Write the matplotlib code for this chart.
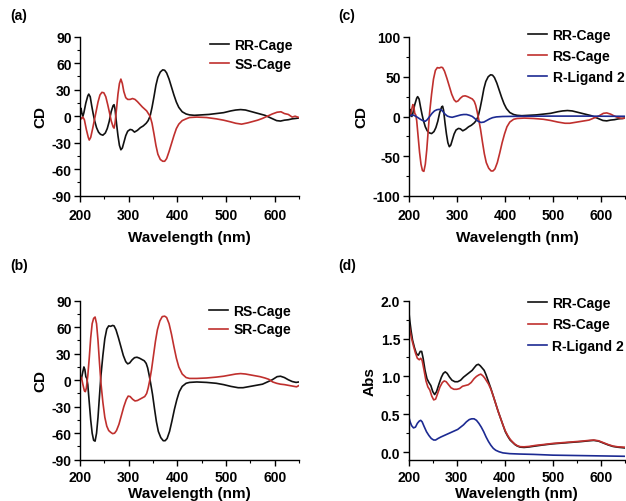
"""
CD and UV-vis spectra of the cages, four panel figure
"""

import matplotlib
matplotlib.use('Agg')
import matplotlib.pyplot as plt
from matplotlib.ticker import MultipleLocator, FormatStrFormatter

BLACK = '#111111'
RED = '#c0302e'
BLUE = '#1c2a92'

# ---- CD data ----
# RR-Cage, panels (a) and (c)
rr_cd_wl = [200, 202, 204, 206, 208, 212, 216, 218, 221, 224, 227, 230, 234, 238, 242,
            247, 252, 256, 260, 264, 268, 270, 272, 275, 278, 281, 284, 287, 290, 294,
            298, 303, 307, 312, 318, 324, 330, 336, 340, 344, 348, 352, 356, 360, 365,
            370, 374, 378, 383, 388, 393, 398, 403, 410, 418, 425, 435, 450, 465, 480,
            495, 510, 520, 530, 540, 550, 560, 570, 580, 588, 596, 604, 612, 620, 628,
            636, 644, 650]
rr_cd = [0, 9, 3, 0, 4, 15, 23, 25, 22, 12, 3, -5, -13, -18, -20.5,
         -21.5, -19, -14, -6, 5, 12, 13, 8, -8, -22, -33, -38, -36, -30, -22,
         -17, -15, -15.5, -18, -16, -13, -11, -8, -5, 0, 10, 22, 35, 44, 50,
         52.5, 52, 49, 42, 33, 24, 16, 10, 5, 2.5, 1.5, 1, 1.5, 2, 3,
         4, 6, 7, 7.5, 7, 5.5, 4, 2.5, 1, -1, -3, -5, -5.5, -4.5, -4,
         -3, -2.5, -2]

# SS-Cage, panel (a)
ss_cd_wl = [200, 203, 206, 209, 213, 217, 219, 222, 226, 230, 233, 237, 241, 245, 249,
            253, 257, 261, 264, 268, 270, 272, 275, 278, 281, 284, 287, 290, 294, 298,
            303, 308, 313, 318, 323, 328, 333, 337, 341, 344, 348, 352, 356, 360, 365,
            370, 374, 378, 383, 388, 393, 398, 403, 410, 418, 425, 440, 460, 480, 495,
            510, 520, 532, 545, 555, 565, 575, 585, 595, 605, 613, 620, 628, 636, 642,
            650]
ss_cd = [0, -3, -1, -4, -15, -24, -27, -24, -14, -3, 5, 16, 24, 27, 26.5,
         22, 13, 3, -5, -12, -13.5, -8, 8, 25, 37, 42, 37, 28, 21, 19,
         19, 20, 19, 16.5, 13.5, 10.5, 8, 6, 2.5, 0, -8, -20, -33, -43, -49,
         -51, -51, -48, -40, -31, -22, -14, -9, -5, -3, -1.5, -1, -1.5, -3, -4.5,
         -6.5, -8, -9, -7.5, -6, -4.5, -2.5, 0, 2.5, 4.5, 5, 3, 2, -1, 0,
         -1.5]

# RS-Cage, panels (b) and (c)
rs_cd_wl = [200, 203, 206, 208, 210, 212, 214, 216, 219, 222, 225, 228, 231, 234, 237,
            240, 243, 247, 251, 255, 259, 263, 267, 270, 274, 279, 284, 289, 294, 298,
            302, 307, 312, 317, 322, 327, 332, 336, 339, 342, 345, 349, 353, 357, 361,
            366, 371, 375, 379, 384, 389, 394, 399, 404, 410, 418, 425, 440, 460, 480,
            495, 510, 525, 535, 545, 555, 565, 575, 585, 595, 605, 612, 620, 628, 636,
            644, 650]
rs_cd = [0, 2, 10, 15, 12, 4, 2, -5, -25, -45, -60, -68, -69, -60, -42,
         -18, 5, 28, 47, 58, 61.5, 61, 62, 61.5, 57, 48, 38, 28, 21, 18.5,
         19.5, 23, 25.5, 26, 25, 23.5, 22, 19, 14, 6, -3, -16, -32, -47, -58,
         -65, -68.5, -68.5, -66, -58, -46, -33, -22, -13, -7, -3.5, -2.5, -2, -2.5, -3.5,
         -5, -7, -8.5, -8.5, -7.5, -6.5, -5.5, -4.5, -2, 0.5, 4, 4.5, 3, 0.5, -1.5,
         -2.5, -2]

# SR-Cage, panel (b)
sr_cd_wl = [200, 203, 206, 209, 211, 213, 216, 219, 222, 225, 228, 231, 234, 237, 240,
            243, 247, 251, 255, 259, 263, 267, 271, 275, 280, 285, 290, 295, 299, 303,
            308, 313, 318, 323, 328, 333, 337, 340, 343, 347, 351, 355, 359, 364, 369,
            374, 378, 383, 388, 393, 398, 403, 410, 418, 425, 440, 460, 480, 495, 510,
            520, 530, 540, 550, 560, 570, 580, 588, 596, 604, 612, 620, 630, 640, 645,
            650]
sr_cd = [4.5, 3, -5, -12, -13, -9, 5, 25, 48, 64, 70, 71.5, 64, 45, 20,
         -3, -25, -42, -52, -57, -59, -60.5, -60, -57, -50, -40, -30, -22, -18, -18.5,
         -21.5, -23.5, -23, -21.5, -20, -18.5, -15, -9, -1, 12, 28, 44, 57, 67, 72,
         72.5, 71, 64, 52, 38, 25, 15, 7, 3, 2, 2, 2.5, 3.5, 4.5, 6,
         7, 7.5, 7, 6, 5, 4, 2.5, 1, -2, -3.5, -4.5, -5, -6, -7, -7.5,
         -6]

# R-Ligand 2, panel (c)
lig_cd_wl = [200, 203, 206, 210, 215, 220, 225, 230, 234, 238, 243, 248, 253, 258, 263,
             267, 271, 275, 280, 285, 290, 296, 302, 308, 314, 320, 326, 332, 338, 344,
             350, 356, 362, 368, 374, 382, 395, 430, 500, 560, 620, 650]
lig_cd = [0, 1, 2, 1.5, 0, -2, -4, -5.5, -6, -4, 0, 4, 7, 8.5, 9,
          8.5, 6, 3, 0.5, -0.5, -1, 0, 1, 2, 2.5, 2.5, 1.5, 0, -3, -6,
          -7.5, -7, -5, -3, -1.5, -0.5, 0, 0.3, 0.5, 0.5, 0.3, 0.3]

# ---- absorbance data, panel (d) ----
rr_abs_wl = [200, 202, 205, 208, 212, 216, 220, 224, 227, 230, 234, 238, 242, 246, 250,
             254, 258, 263, 268, 272, 276, 280, 285, 290, 296, 302, 308, 314, 320, 326,
             332, 337, 341, 345, 349, 353, 357, 361, 366, 371, 376, 381, 386, 391, 396,
             401, 406, 411, 416, 421, 426, 432, 440, 450, 465, 480, 500, 520, 540, 560,
             575, 585, 595, 605, 615, 625, 635, 650]
rr_abs = [1.88, 1.75, 1.60, 1.48, 1.38, 1.30, 1.28, 1.33, 1.33, 1.24, 1.08, 0.97, 0.92, 0.88, 0.80,
          0.76, 0.80, 0.90, 0.99, 1.04, 1.06, 1.04, 0.99, 0.95, 0.93, 0.93, 0.95, 0.99, 1.02, 1.05,
          1.08, 1.12, 1.15, 1.16, 1.14, 1.11, 1.08, 1.02, 0.93, 0.84, 0.74, 0.64, 0.54, 0.45, 0.36,
          0.27, 0.21, 0.16, 0.13, 0.10, 0.08, 0.066, 0.062, 0.068, 0.082, 0.095, 0.11, 0.12, 0.13, 0.14,
          0.15, 0.155, 0.145, 0.12, 0.095, 0.075, 0.065, 0.055]

rs_abs_wl = [200, 203, 206, 210, 214, 218, 222, 225, 228, 232, 236, 240, 244, 248, 252,
             256, 260, 265, 270, 274, 278, 283, 288, 294, 300, 306, 312, 318, 324, 330,
             336, 341, 346, 350, 354, 358, 362, 366, 371, 376, 381, 386, 391, 396, 401,
             406, 411, 416, 421, 426, 432, 440, 450, 465, 480, 500, 520, 540, 560, 575,
             585, 595, 605, 615, 625, 635, 650]
rs_abs = [1.72, 1.60, 1.50, 1.40, 1.31, 1.24, 1.22, 1.24, 1.21, 1.08, 0.94, 0.86, 0.82, 0.74, 0.69,
          0.70, 0.77, 0.86, 0.92, 0.94, 0.93, 0.89, 0.85, 0.83, 0.83, 0.84, 0.87, 0.88, 0.89, 0.92,
          0.97, 1.00, 1.02, 1.03, 1.01, 0.98, 0.94, 0.90, 0.83, 0.74, 0.64, 0.54, 0.45, 0.36, 0.28,
          0.22, 0.17, 0.135, 0.105, 0.085, 0.072, 0.07, 0.075, 0.09, 0.10, 0.115, 0.125, 0.135, 0.145, 0.155,
          0.16, 0.15, 0.125, 0.10, 0.08, 0.07, 0.065]

lig_abs_wl = [200, 203, 206, 210, 214, 218, 222, 225, 228, 232, 237, 242, 247, 252, 256,
              261, 267, 274, 281, 288, 295, 302, 308, 314, 320, 326, 331, 336, 341, 346,
              351, 356, 361, 366, 371, 376, 381, 388, 396, 410, 430, 460, 500, 550, 600,
              650]
lig_abs = [0.47, 0.40, 0.35, 0.32, 0.33, 0.38, 0.41, 0.42, 0.40, 0.34, 0.27, 0.22, 0.18, 0.16, 0.16,
           0.18, 0.20, 0.22, 0.24, 0.26, 0.28, 0.30, 0.33, 0.36, 0.40, 0.43, 0.44, 0.44, 0.42, 0.38,
           0.33, 0.27, 0.20, 0.14, 0.09, 0.05, 0.025, 0.005, -0.01, -0.02, -0.025, -0.03, -0.04, -0.045, -0.05,
           -0.055]

W, H = 626, 502


def px_axes(fig, left, top, right, bottom):
    """
        add axes from pixel edges (origin at the top left)
    """
    return fig.add_axes([left / W, 1 - bottom / H, (right - left) / W, (bottom - top) / H])


def style(ax, ylim, ymajor, ylabel, xpad, xlabelpad):
    """
        common look for every panel
    """
    ax.set_xlim(200, 650)
    ax.set_ylim(*ylim)
    ax.xaxis.set_major_locator(MultipleLocator(100))
    ax.xaxis.set_minor_locator(MultipleLocator(50))
    ax.yaxis.set_major_locator(MultipleLocator(ymajor))
    ax.yaxis.set_minor_locator(MultipleLocator(ymajor / 2))
    ax.spines['top'].set_visible(False)
    ax.spines['right'].set_visible(False)
    for side in ['left', 'bottom']:
        ax.spines[side].set_linewidth(1.0)
    ax.tick_params(which='major', direction='out', length=4, width=1.0, labelsize=10)
    ax.tick_params(which='minor', direction='out', length=2.5, width=0.8)
    ax.tick_params(axis='x', which='major', pad=xpad)
    ax.tick_params(axis='y', which='major', pad=2)
    ax.set_xlabel('Wavelength (nm)', fontsize=11, labelpad=xlabelpad)
    ax.set_ylabel(ylabel, fontsize=11, labelpad=3)


def legend(ax, x, y, spacing):
    ax.legend(loc='upper left', bbox_to_anchor=(x, y), frameon=False, fontsize=10,
              handlelength=1.35, handletextpad=0.4, borderpad=0, borderaxespad=0,
              labelspacing=spacing)


plt.rcParams['font.family'] = ['Liberation Sans', 'DejaVu Sans']
plt.rcParams['font.weight'] = 'bold'
plt.rcParams['axes.labelweight'] = 'bold'
plt.rcParams['axes.unicode_minus'] = False

fig = plt.figure(figsize=(W / 100, H / 100), dpi=100)

# (a)
ax = px_axes(fig, 80, 37.7, 299, 196.7)
ax.plot(rr_cd_wl, rr_cd, color=BLACK, lw=1.2, label='RR-Cage')
ax.plot(ss_cd_wl, ss_cd, color=RED, lw=1.2, label='SS-Cage')
style(ax, (-90, 90), 30, 'CD', 5, 5.5)
legend(ax, 0.595, 0.99, 0.33)

# (c)
ax = px_axes(fig, 409, 38, 625, 197)
ax.plot(rr_cd_wl, rr_cd, color=BLACK, lw=1.2, label='RR-Cage')
ax.plot(rs_cd_wl, rs_cd, color=RED, lw=1.2, label='RS-Cage')
ax.plot(lig_cd_wl, lig_cd, color=BLUE, lw=1.2, label='R-Ligand 2')
style(ax, (-100, 100), 50, 'CD', 5, 5.5)
legend(ax, 0.552, 1.058, 0.5)

# (b)
ax = px_axes(fig, 80, 301.7, 299, 460.7)
ax.plot(rs_cd_wl, rs_cd, color=BLACK, lw=1.2, label='RS-Cage')
ax.plot(sr_cd_wl, sr_cd, color=RED, lw=1.2, label='SR-Cage')
style(ax, (-90, 90), 30, 'CD', 3.5, 1.5)
legend(ax, 0.59, 0.98, 0.33)

# (d)
ax = px_axes(fig, 408.7, 301.7, 625, 460.7)
ax.plot(rr_abs_wl, rr_abs, color=BLACK, lw=1.2, label='RR-Cage')
ax.plot(rs_abs_wl, rs_abs, color=RED, lw=1.2, label='RS-Cage')
ax.plot(lig_abs_wl, lig_abs, color=BLUE, lw=1.2, label='R-Ligand 2')
style(ax, (-0.1, 2.0), 0.5, 'Abs', 3.5, 1.5)
ax.yaxis.set_major_formatter(FormatStrFormatter('%.1f'))
legend(ax, 0.552, 1.031, 0.55)

# panel letters
for label, x, y in [('(a)', 10, 16), ('(c)', 338, 16), ('(b)', 10, 266), ('(d)', 338, 266)]:
    fig.text(x / W, 1 - y / H, label, fontsize=10, fontweight='bold', va='center', ha='left')

fig.savefig('out.png', dpi=100)
